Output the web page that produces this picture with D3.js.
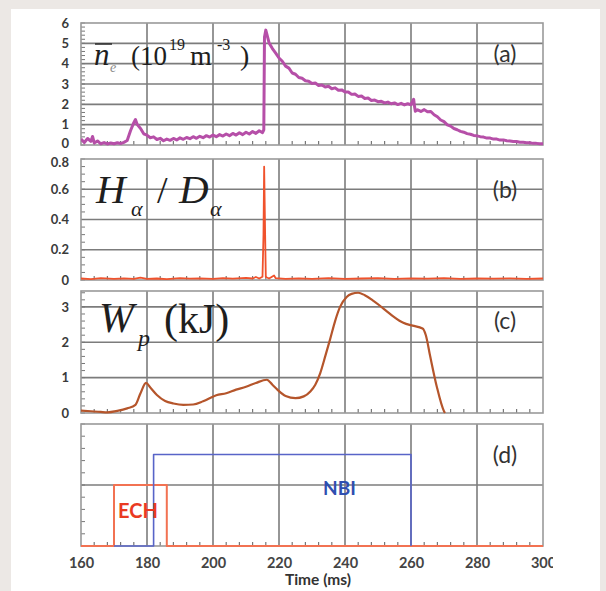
<!DOCTYPE html>
<html><head><meta charset="utf-8">
<script src="https://cdn.jsdelivr.net/npm/d3@7"></script>
<style>body{margin:0;background:#ece8e5;}svg{display:block;}</style>
</head><body>
<svg id="c" width="606" height="591"></svg>
<script>
// ---------------- data ----------------
const xTicks = [160, 180, 200, 220, 240, 260, 280, 300];
const xGrid = [180, 200, 220, 240, 260, 280];

const neT = [160,161,162,163,163.5,164,165,166,167,168,169,170,171,172,173,174,175,176,176.5,177,178,179,180,
181,182,183,184,185,186,187,188,189,190,191,192,193,194,195,196,197,198,199,200,201,202,203,204,205,206,207,208,209,210,
211,212,213,214,215,215.4,215.6,216,217,218,219,220,221,222,223,224,225,226,227,228,229,230,231,232,233,234,235,236,237,238,239,240,
241,242,243,244,245,246,247,248,249,250,251,252,253,254,255,256,257,258,259,260,260.8,261,261.3,262,263,264,265,266,267,268,269,270,
271,272,273,274,275,276,277,278,279,280,281,282,283,284,285,286,287,288,289,290,291,292,293,294,295,296,297,298,299,300];
const neV = [0.30,0.12,0.32,0.18,0.42,0.10,0.20,0.06,0.12,0.05,0.10,0.06,0.11,0.07,0.13,0.22,0.70,1.10,1.25,1.02,0.82,0.55,0.48,
0.36,0.40,0.27,0.33,0.21,0.29,0.23,0.32,0.25,0.35,0.28,0.37,0.31,0.41,0.33,0.43,0.36,0.46,0.39,0.49,0.41,0.51,0.44,0.54,0.46,0.57,0.49,0.60,0.51,0.63,
0.54,0.66,0.57,0.70,0.61,0.75,5.30,5.65,5.02,4.74,4.52,4.28,4.12,3.88,3.78,3.54,3.48,3.32,3.28,3.16,3.14,3.03,3.05,2.93,2.95,2.85,2.89,2.77,2.81,2.69,2.71,2.61,
2.61,2.49,2.51,2.39,2.41,2.29,2.31,2.19,2.21,2.13,2.15,2.07,2.11,2.03,2.07,1.99,2.05,1.97,2.03,1.98,2.25,1.98,1.66,1.73,1.65,1.74,1.63,1.65,1.49,1.39,1.23,1.15,
0.99,0.93,0.81,0.75,0.67,0.63,0.56,0.53,0.47,0.45,0.41,0.39,0.34,0.34,0.29,0.29,0.24,0.25,0.21,0.20,0.17,0.17,0.14,0.13,0.11,0.11,0.08,0.08,0.06,0.06];

const haT = [160,163,166,170,173,176,178,180,183,186,190,193,196,200,203,206,210,212,213,214,215,215.3,215.5,215.8,216,217,218.5,219,222,226,230,235,240,245,250,255,260,265,270,275,280,285,290,295,300];
const haV = [0.010,0.006,0.012,0.008,0.011,0.007,0.016,0.008,0.010,0.006,0.012,0.009,0.011,0.007,0.013,0.009,0.014,0.010,0.020,0.010,0.022,0.30,0.75,0.30,0.020,0.010,0.030,0.012,0.008,0.011,0.007,0.012,0.008,0.010,0.012,0.008,0.011,0.009,0.012,0.008,0.010,0.009,0.011,0.008,0.010];

const wpT = [160,163,166,168,171,174,176.5,178,179.7,181,183,185.5,188,191,194,197,201,204,207,210,213,216.3,218,219.5,222,225,227.5,229.5,231,232.5,234,235.5,237,238.5,240.5,242,244,246,248.5,250.5,252.5,254.5,256.5,258.5,260.5,263.5,264.5,265.8,267.8,270,270.3];
const wpV = [0.07,0.05,0.03,0.02,0.06,0.13,0.23,0.55,0.85,0.72,0.51,0.34,0.27,0.23,0.24,0.33,0.50,0.56,0.66,0.74,0.85,0.94,0.80,0.66,0.48,0.42,0.47,0.61,0.80,1.13,1.60,2.09,2.60,3.00,3.28,3.37,3.40,3.33,3.18,3.04,2.89,2.74,2.61,2.52,2.47,2.39,2.20,1.61,0.75,0.05,0.00];

const echT = [160,170,170,186,186,300];
const echV = [0,0,0.5,0.5,0,0];
const nbiT = [170,182,182,260,260];
const nbiV = [0,0,0.75,0.75,0];

const yTicksA = [0,1,2,3,4,5,6];
const yTicksB = [0,0.2,0.4,0.6,0.8];
const yTicksC = [0,1,2,3];
const yTicksD = [];

// ---------------- drawing ----------------
const svg = d3.select('#c');
svg.append('rect').attr('x',11).attr('y',9).attr('width',589).attr('height',582).attr('fill','#ffffff');

const x = d3.scaleLinear().domain([160,300]).range([81,543]);
const gridColor = '#7c7c7c', frameColor = '#9a9a9a', tickTextColor = '#3a3a3a';

const panels = [
  {id:'a', top:23,  bottom:145, domain:[0,6],    ticks:yTicksA, grid:[1,2,3,4,5],   minor:0.2,  fmt:d3.format('d'),  label:'(a)', ly:62, dy0:-2},
  {id:'b', top:159, bottom:280, domain:[0,0.8],  ticks:yTicksB, grid:[0.2,0.4,0.6], minor:0.05, fmt:d=>d===0?'0':d3.format('.1f')(d), label:'(b)', ly:198, dyTop:3},
  {id:'c', top:291, bottom:413, domain:[0,3.45], ticks:yTicksC, grid:[1,2,3],       minor:0.2,  fmt:d3.format('d'),  label:'(c)', ly:329},
  {id:'d', top:424, bottom:546, domain:[0,1],    ticks:yTicksD, grid:[0.5],         minor:0.1,  fmt:d3.format('d'),  label:'(d)', ly:463}
];

panels.forEach(p => {
  const y = d3.scaleLinear().domain(p.domain).range([p.bottom, p.top]);
  p.y = y;
  const g = svg.append('g');
  g.selectAll('.gx').data(xGrid).join('line')
    .attr('x1',d=>x(d)).attr('x2',d=>x(d)).attr('y1',p.top).attr('y2',p.bottom)
    .attr('stroke',gridColor).attr('stroke-width',1.6);
  g.selectAll('.gy').data(p.grid).join('line')
    .attr('x1',x(160)).attr('x2',x(300)).attr('y1',d=>y(d)).attr('y2',d=>y(d))
    .attr('stroke',gridColor).attr('stroke-width',1.6);
  const xm = d3.range(164, 300, 4).filter(v => v % 20 !== 0);
  g.selectAll('.mx').data(xm).join('line')
    .attr('x1',d=>x(d)).attr('x2',d=>x(d)).attr('y1',p.bottom).attr('y2',p.bottom-4)
    .attr('stroke','#777').attr('stroke-width',1.2);
  const ym = d3.range(p.domain[0], p.domain[1] + 1e-9, p.minor);
  g.selectAll('.my').data(ym).join('line')
    .attr('x1',x(160)).attr('x2',x(160)+4).attr('y1',d=>y(d)).attr('y2',d=>y(d))
    .attr('stroke','#777').attr('stroke-width',1);
  g.append('rect').attr('x',x(160)).attr('y',p.top).attr('width',x(300)-x(160)).attr('height',p.bottom-p.top)
    .attr('fill','none').attr('stroke',frameColor).attr('stroke-width',1.6);
  const ax = g.append('g').attr('transform',`translate(${x(160)-9},0)`)
    .call(d3.axisLeft(y).tickValues(p.ticks).tickSize(0).tickFormat(p.fmt));
  ax.select('.domain').remove();
  ax.selectAll('text').attr('font-family','Lato, sans-serif').attr('font-weight',700)
    .attr('font-size',13).attr('fill',tickTextColor);
  if (p.dy0) ax.selectAll('.tick').filter(d=>d===0).select('text').attr('y',p.dy0);
  if (p.dyTop) ax.selectAll('.tick').filter(d=>d===p.domain[1]).select('text').attr('y',p.dyTop);
  g.append('text').attr('x',505).attr('y',p.ly).attr('text-anchor','middle')
    .attr('font-family','Lato, sans-serif').attr('font-size',23).attr('fill','#333').text(p.label);
  svg.append('clipPath').attr('id','clip'+p.id).append('rect')
    .attr('x',x(160)).attr('y',p.top-4).attr('width',x(300)-x(160)).attr('height',p.bottom-p.top+6);
});

function drawLine(p, T, V, color, width, curve){
  const line = d3.line().x((d,i)=>x(T[i])).y((d,i)=>p.y(V[i])).curve(curve || d3.curveLinear);
  svg.append('path').datum(T).attr('d',line).attr('fill','none')
    .attr('stroke',color).attr('stroke-width',width).attr('stroke-linejoin','round')
    .attr('clip-path',`url(#clip${p.id})`);
}

drawLine(panels[0], neT, neV, '#b64fa8', 3);
drawLine(panels[1], haT, haV, '#f0522c', 1.8);
drawLine(panels[2], wpT, wpV, '#b5552b', 2.2, d3.curveMonotoneX);
drawLine(panels[3], echT, echV, '#f27252', 2);
drawLine(panels[3], nbiT, nbiV, '#5864c8', 1.6);

// x tick labels
const xl = svg.append('g').attr('transform',`translate(0,${panels[3].bottom+9})`)
  .call(d3.axisBottom(x).tickValues(xTicks).tickSize(0).tickFormat(d3.format('d')));
xl.select('.domain').remove();
xl.selectAll('text').attr('font-family','Lato, sans-serif').attr('font-weight',700)
  .attr('font-size',14.5).attr('fill','#444');
svg.append('clipPath').attr('id','clipx').append('rect').attr('x',0).attr('y',0).attr('width',553).attr('height',591);
xl.attr('clip-path','url(#clipx)');

svg.append('text').attr('x',318).attr('y',585).attr('text-anchor','middle')
  .attr('font-family','Lato, sans-serif').attr('font-weight',700).attr('font-size',15.5).attr('fill','#333').text('Time (ms)');

svg.append('text').attr('x',118).attr('y',518).attr('font-family','Lato, sans-serif').attr('font-weight',700)
  .attr('font-size',20).attr('fill','#ea3a22').text('ECH');
svg.append('text').attr('x',323).attr('y',495).attr('font-family','Lato, sans-serif').attr('font-weight',700)
  .attr('font-size',19).attr('fill','#2f4fb0').text('NBI');

// big serif labels
const serif = 'Liberation Serif, Times New Roman, serif';
function piece(xp, yp, txt, size, italic, color){
  svg.append('text').attr('x',xp).attr('y',yp).attr('font-family',serif).attr('font-size',size)
    .attr('font-style',italic?'italic':'normal').attr('fill',color||'#1e1e1e').text(txt);
}
// (a)  n_e (10^19 m^-3)
piece(94, 65, 'n', 31, true);
piece(110, 72, 'e', 14, true, '#8a8a8a');
piece(131, 65, '(10', 27, false);
piece(169, 50, '19', 16, false);
piece(190, 65, 'm', 28, false);
piece(217, 50, '-3', 16, false);
piece(240, 65, ')', 28, false);
svg.append('line').attr('x1',95).attr('x2',112).attr('y1',44).attr('y2',44).attr('stroke','#2a2a2a').attr('stroke-width',1.5);
// (b)  H_α / D_α
piece(96, 203, 'H', 41, true);
piece(131, 216, 'α', 22, true);
piece(157, 203, '/', 38, false);
piece(179, 203, 'D', 41, true);
piece(210, 216, 'α', 22, true);
// (c)  W_p (kJ)
piece(99, 332, 'W', 42, true);
piece(138, 346, 'p', 24, true);
piece(164, 333, '(kJ)', 42, false);
</script>
</body></html>
